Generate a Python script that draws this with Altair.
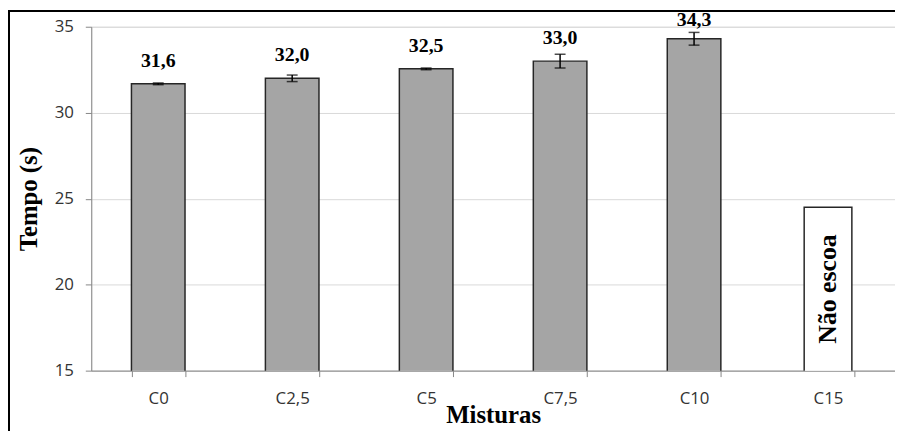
import altair as alt
import pandas as pd

categories = ["C0", "C2,5", "C5", "C7,5", "C10"]
values = [31.68, 32.0, 32.55, 33.0, 34.3]
errors = [0.05, 0.19, 0.05, 0.4, 0.37]
labels = ["31,6", "32,0", "32,5", "33,0", "34,3"]
all_categories = ["C0", "C2,5", "C5", "C7,5", "C10", "C15"]
box_category = ["C15"]
box_value = [24.5]
box_text = ["Não escoa"]

df = pd.DataFrame({"cat": categories, "val": values, "err": errors, "lab": labels})
df["lo"] = df["val"] - df["err"]
df["hi"] = df["val"] + df["err"]
box = pd.DataFrame({"cat": box_category, "val": box_value, "txt": box_text})

xscale = alt.Scale(domain=all_categories, paddingInner=0.6, paddingOuter=0.3)
yscale = alt.Scale(domain=[15, 35], nice=False)

x = alt.X("cat:N", scale=xscale, sort=all_categories, title="Misturas",
          axis=alt.Axis(labelAngle=0, tickBand="extent", grid=False,
                        domainColor="#868686", tickColor="#868686", tickSize=6,
                        labelFont="Open Sans", labelFontSize=17, labelColor="#333333",
                        labelPadding=14, titleFont="Liberation Serif", titleFontSize=25,
                        titleFontWeight="bold", titleColor="#000000",
                        titleBaseline="alphabetic", titleY=52))
y = alt.Y("val:Q", scale=yscale, title="Tempo  (s)",
          axis=alt.Axis(values=[15, 20, 25, 30, 35], gridColor="#d9d9d9",
                        domainColor="#868686", tickColor="#868686", tickSize=6,
                        labelFont="Open Sans", labelFontSize=17, labelColor="#333333",
                        labelPadding=12, titleFont="Liberation Serif", titleFontSize=25,
                        titleFontWeight="bold", titleColor="#000000", titlePadding=13))

xs = alt.X("cat:N", scale=xscale, sort=all_categories)

bars = alt.Chart(df).mark_bar(fill="#a5a5a5", stroke="#262626", strokeWidth=1.5, clip=True).encode(x=x, y=y)

rules = alt.Chart(df).mark_rule(color="black", strokeWidth=1.5).encode(
    x=xs, y=alt.Y("lo:Q", scale=yscale), y2="hi:Q")
caps_lo = alt.Chart(df).mark_tick(color="black", size=11, thickness=1.5, orient="horizontal").encode(
    x=xs, y=alt.Y("lo:Q", scale=yscale))
caps_hi = alt.Chart(df).mark_tick(color="black", size=11, thickness=1.5, orient="horizontal").encode(
    x=xs, y=alt.Y("hi:Q", scale=yscale))

text = alt.Chart(df).transform_calculate(laby="min(datum.val, 34.05)").mark_text(
    font="Liberation Serif", fontSize=20, fontWeight="bold",
    baseline="bottom", dy=-13, color="#000000").encode(
    x=xs, y=alt.Y("laby:Q", scale=yscale), text="lab:N")

boxbar = alt.Chart(box).mark_bar(fill="white", stroke="#262626", strokeWidth=1.5, clip=True,
                                 width=alt.RelativeBandSize(0.89)).encode(
    x=xs, y=alt.Y("val:Q", scale=yscale))
boxtext = alt.Chart(box).transform_calculate(mid="(15 + datum.val) / 2").mark_text(
    font="Liberation Serif", fontSize=26, fontWeight="bold", angle=270,
    align="center", baseline="middle", color="#000000").encode(
    x=xs, y=alt.Y("mid:Q", scale=yscale), text="txt:N")

frame = alt.Chart(df).mark_rect(fill=None, stroke="black", strokeWidth=2).encode(
    x=alt.value(-83), x2=alt.value(900), y=alt.value(-16), y2=alt.value(600))

chart = alt.layer(bars, rules, caps_lo, caps_hi, text, boxbar, boxtext, frame).properties(
    width=811, height=347,
    autosize=alt.AutoSizeParams(type="none"),
    padding={"left": 84, "top": 17, "right": 0, "bottom": 59},
).configure_view(stroke=None).configure(background="white")

chart.save("out.html", embed_options={"renderer": "svg", "actions": False})
